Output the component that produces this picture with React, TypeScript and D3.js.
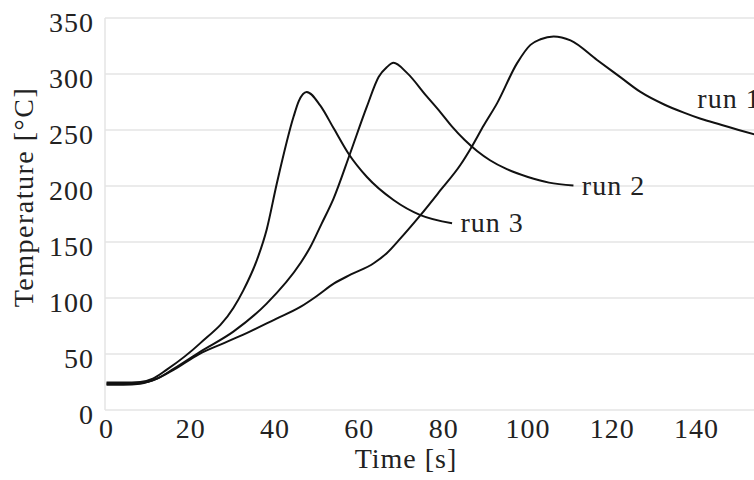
import React from "react";
import * as d3 from "d3";

const xTicks = [0, 20, 40, 60, 80, 100, 120, 140];
const yTicks = [0, 50, 100, 150, 200, 250, 300, 350];

const run1Time = [0, 4, 8, 12, 16, 22, 28, 34, 40, 46, 50, 54, 58, 63.4, 66.5, 69.7, 74.5, 79.2, 84, 86.5, 89.5, 92.7, 97.4, 100.6, 103, 106.1, 110.1, 116.4, 122, 126.7, 132.2, 137, 141, 146, 150, 153.8];
const run1Temp = [22.5, 22.5, 23.5, 28, 36, 50, 60, 70, 81, 92, 102, 113, 121, 131, 140, 153, 174, 196, 219, 234, 254, 274, 309.5, 326, 331, 333.5, 330, 312.5, 297, 284, 273, 265.5, 260, 254.5, 250, 246];

const run2Time = [0, 4, 8, 12, 16, 22.2, 30.1, 38, 46, 48.3, 51, 53.9, 57.8, 61.8, 64.6, 66.5, 68.1, 71.3, 76, 79.2, 82, 85, 88, 91, 95, 100, 105, 110.8];
const run2Temp = [23.5, 23.5, 24, 28, 37, 52, 70, 95, 131, 145, 166, 189, 229, 271, 297.5, 306, 310, 301, 280, 266, 253, 241, 231, 223, 215, 208, 203, 200.5];

const run3Time = [0, 4, 8, 11, 14.3, 22.2, 30.1, 32.5, 35.7, 38, 40.4, 44.4, 45.6, 47.5, 50.7, 53.9, 57.4, 61.8, 68.1, 74.5, 82];
const run3Temp = [24.5, 24.5, 25, 28, 36, 59.5, 91, 107, 134, 161, 202, 262, 275.6, 284, 272, 251.5, 229, 208, 187.5, 174, 166.7];

const seriesNames = ["run 1", "run 2", "run 3"];
// label anchors in data units [time, temperature]
const labelTime = [140.2, 112.8, 84];
const labelTemp = [269.4, 192, 159];

export default function App() {
  const width = 754;
  const height = 480;
  const x = d3.scaleLinear().domain([0, 140]).range([106.5, 696.5]);
  const y = d3.scaleLinear().domain([0, 350]).range([410, 18]);
  const plotLeft = 105;
  const plotRight = width;

  const line = d3
    .line<[number, number]>()
    .x((d) => x(d[0]))
    .y((d) => y(d[1]))
    .curve(d3.curveMonotoneX);

  const runs = [
    run1Time.map((t, i) => [t, run1Temp[i]] as [number, number]),
    run2Time.map((t, i) => [t, run2Temp[i]] as [number, number]),
    run3Time.map((t, i) => [t, run3Temp[i]] as [number, number]),
  ];

  const font = "'Liberation Serif', 'Times New Roman', serif";
  const textColor = "#222";

  return (
    <svg
      width={width}
      height={height}
      style={{ position: "absolute", left: 0, top: 0, background: "#fff" }}
    >
      <rect x={0} y={0} width={width} height={height} fill="#fff" />
      {yTicks.map((v) => (
        <line
          key={"g" + v}
          x1={plotLeft}
          x2={plotRight}
          y1={y(v)}
          y2={y(v)}
          stroke="#e4e4e4"
          strokeWidth={1.5}
        />
      ))}
      <line x1={plotLeft} x2={plotLeft} y1={y(350)} y2={y(0)} stroke="#e4e4e4" strokeWidth={1.5} />
      {runs.map((r, i) => (
        <path key={"r" + i} d={line(r) || ""} fill="none" stroke="#111" strokeWidth={2} strokeLinejoin="round" />
      ))}
      {yTicks.map((v) => (
        <text
          key={"yl" + v}
          x={94}
          y={y(v) + 13.5}
          textAnchor="end"
          fontFamily={font}
          fontSize={28}
          letterSpacing={1}
          fill={textColor}
        >
          {v}
        </text>
      ))}
      {xTicks.map((v) => (
        <text
          key={"xl" + v}
          x={x(v)}
          y={438}
          textAnchor="middle"
          fontFamily={font}
          fontSize={28}
          letterSpacing={1}
          fill={textColor}
        >
          {v}
        </text>
      ))}
      <text x={406} y={468} textAnchor="middle" fontFamily={font} fontSize={28} letterSpacing={1} fill={textColor}>
        Time [s]
      </text>
      <text
        transform={`translate(33,197) rotate(-90)`}
        textAnchor="middle"
        fontFamily={font}
        fontSize={28}
        letterSpacing={1.5}
        fill={textColor}
      >
        Temperature [°C]
      </text>
      {seriesNames.map((n, i) => (
        <text
          key={"lab" + i}
          x={x(labelTime[i])}
          y={y(labelTemp[i])}
          fontFamily={font}
          fontSize={28}
          letterSpacing={1}
          fill={textColor}
        >
          {n}
        </text>
      ))}
    </svg>
  );
}
